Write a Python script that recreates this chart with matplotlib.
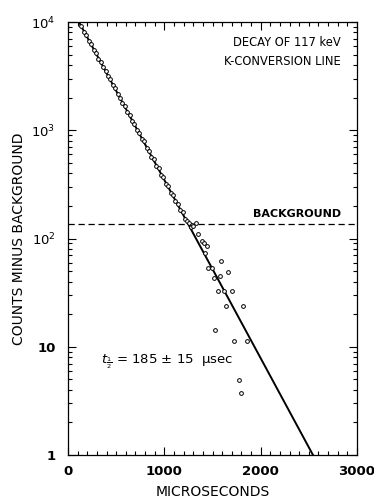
import numpy as np
import matplotlib
matplotlib.use("Agg")
import matplotlib.pyplot as plt
from matplotlib.ticker import FixedLocator, FixedFormatter, MultipleLocator

# dense measured points along the decay line
dense_t = [140, 165, 190, 215, 240, 265, 290, 315, 340, 365, 390, 415, 440, 465, 490,
           515, 540, 565, 590, 615, 640, 665, 690, 715, 740, 765, 790, 815, 840, 865,
           890, 915, 940, 965, 990, 1015, 1040, 1065, 1090, 1115, 1140, 1165, 1190, 1215, 1240]
dense_counts = [9100, 8100, 7600, 6700, 6300, 5500, 5200, 4600, 4300, 3800, 3550, 3150, 2950, 2600, 2450,
                2150, 2000, 1780, 1680, 1470, 1380, 1220, 1150, 1000, 950, 830, 790, 690, 650, 570,
                540, 470, 445, 390, 370, 320, 305, 265, 252, 220, 210, 182, 175, 150, 145]

# scattered points below background level
tail_t = [1259, 1284, 1329, 1277, 1294, 1353, 1388, 1412, 1440, 1422, 1588, 1456, 1495,
          1664, 1517, 1578, 1557, 1616, 1699, 1640, 1813, 1526, 1723, 1855, 1775, 1796]
tail_counts = [140, 133, 138, 127, 130, 110, 95, 90, 86, 73, 62, 53, 53,
               49, 43, 45, 33, 33, 33, 24, 24, 14.4, 11.4, 11.3, 4.9, 3.7]

# fitted line end points
fit_t = [114, 2543]
fit_counts = [1e4, 1]

background = 135

ytick_vals = [1, 10, 100, 1000, 10000]
ytick_labels = ["1", "10", "$10^2$", "$10^3$", "$10^4$"]
xtick_vals = [0, 1000, 2000, 3000]

plt.rcParams['font.family'] = ['DejaVu Sans']

fig = plt.figure(figsize=(3.74, 5.04), dpi=100)
ax = fig.add_axes([68/374, 49/504, 289/374, 433/504])

ax.plot(dense_t + tail_t, dense_counts + tail_counts, 'o', mfc='white', mec='black',
        ms=2.7, mew=0.7, zorder=3, clip_on=False)
ax.plot(fit_t, fit_counts, color='black', lw=1.4, zorder=2)
ax.axhline(background, color='black', lw=0.9, ls=(0, (5, 3)), zorder=1)

ax.set_yscale('log')
ax.set_xlim(0, 3000)
ax.set_ylim(1, 1e4)

ax.yaxis.set_major_locator(FixedLocator(ytick_vals))
ax.yaxis.set_major_formatter(FixedFormatter(ytick_labels))
ax.yaxis.set_minor_locator(matplotlib.ticker.LogLocator(base=10, subs=np.arange(2, 10)))
ax.yaxis.set_minor_formatter(matplotlib.ticker.NullFormatter())
ax.set_xticks(xtick_vals)
ax.xaxis.set_minor_locator(MultipleLocator(100))

ax.tick_params(which='both', direction='in', top=True, right=True, width=0.8)
ax.tick_params(which='major', length=6)
ax.tick_params(which='minor', length=3)
ax.tick_params(axis='x', pad=7, labelsize=9.5)
ax.tick_params(axis='y', pad=9, labelsize=9.5)
for lab in ax.get_xticklabels() + ax.get_yticklabels():
    lab.set_fontweight('bold')
for s in ax.spines.values():
    s.set_linewidth(0.9)

ax.set_xlabel("MICROSECONDS", fontsize=10, labelpad=5)
ax.set_ylabel("COUNTS MINUS BACKGROUND", fontsize=10, labelpad=4)

ax.text(2830, 10**3.72, "DECAY OF 117 keV\nK-CONVERSION LINE", ha='right', va='center',
        fontsize=8.3, linespacing=1.6)
ax.text(2380, background * 1.12, "BACKGROUND", ha='center', va='bottom', fontsize=8,
        fontweight='bold')
ax.text(340, 7.2, r"$t_{\frac{1}{2}}$ = 185 ± 15  μsec", ha='left', va='center',
        fontsize=9.5)

fig.savefig("out.png", dpi=100)
